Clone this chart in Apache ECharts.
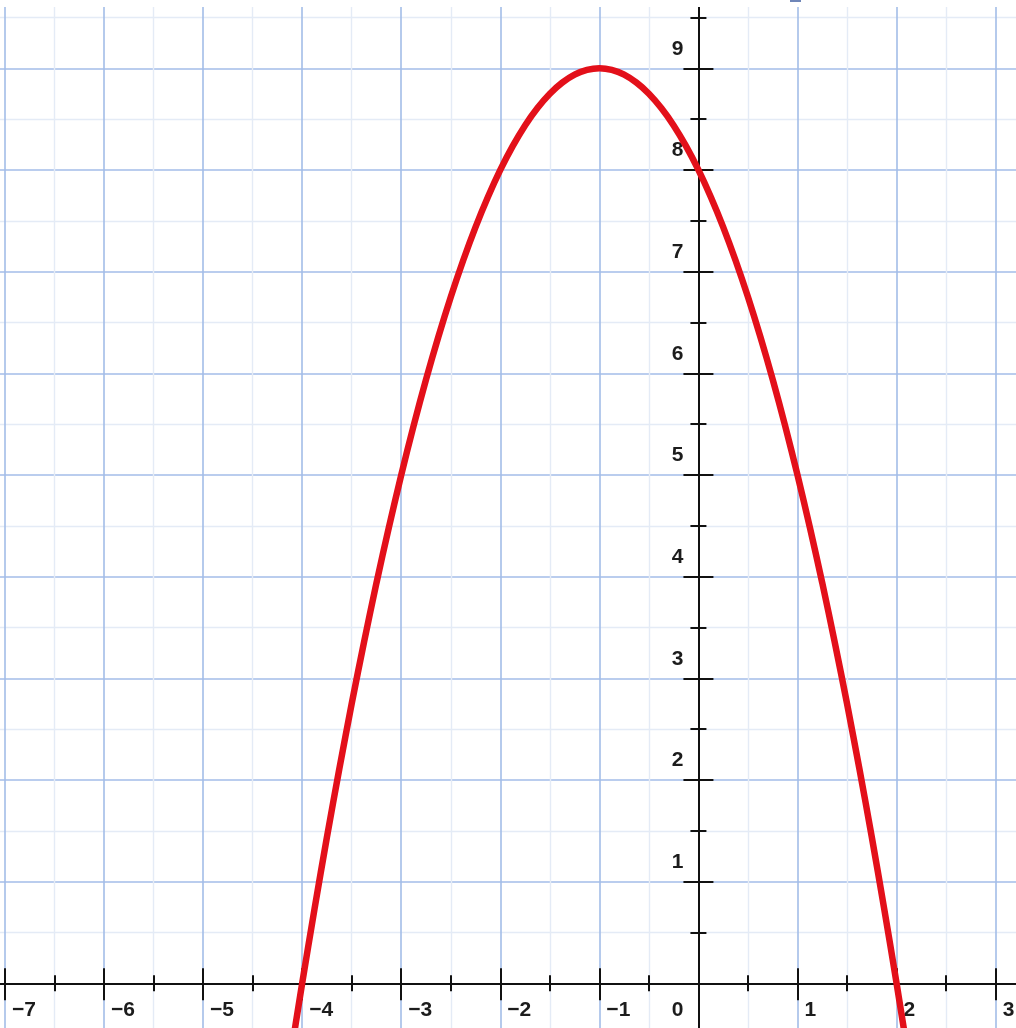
<!DOCTYPE html>
<html>
<head>
<meta charset="utf-8">
<title>Parabola</title>
<script src="https://cdn.jsdelivr.net/npm/echarts@6/dist/echarts.min.js"></script>
<style>
  html, body { margin: 0; padding: 0; background: #fff; }
  #chart { width: 1016px; height: 1028px; }
</style>
</head>
<body>
<div id="chart"></div>
<script>
// axis ranges (the visible window is a crop of a larger grid)
const xMin = -8, xMax = 4
const yMin = -1, yMax = 10

// tick labels shown on the axes
const xTickLabels = [-7, -6, -5, -4, -3, -2, -1, 1, 2, 3]
const yTickLabels = [1, 2, 3, 4, 5, 6, 7, 8, 9]

// points of the red curve
const curveX = [-4.5, -4.375, -4.25, -4.125, -4, -3.875, -3.75, -3.625, -3.5, -3.375, -3.25, -3.125,
  -3, -2.875, -2.75, -2.625, -2.5, -2.375, -2.25, -2.125, -2, -1.875, -1.75, -1.625, -1.5, -1.375,
  -1.25, -1.125, -1, -0.875, -0.75, -0.625, -0.5, -0.375, -0.25, -0.125, 0, 0.125, 0.25, 0.375,
  0.5, 0.625, 0.75, 0.875, 1, 1.125, 1.25, 1.375, 1.5, 1.625, 1.75, 1.875, 2, 2.125, 2.25, 2.375, 2.5]
const curveY = [-3.25, -2.391, -1.563, -0.766, 0, 0.734, 1.438, 2.109, 2.75, 3.359, 3.938, 4.484,
  5, 5.484, 5.938, 6.359, 6.75, 7.109, 7.438, 7.734, 8, 8.234, 8.438, 8.609, 8.75, 8.859,
  8.938, 8.984, 9, 8.984, 8.938, 8.859, 8.75, 8.609, 8.438, 8.234, 8, 7.734, 7.438, 7.109,
  6.75, 6.359, 5.938, 5.484, 5, 4.484, 3.938, 3.359, 2.75, 2.109, 1.438, 0.734, 0, -0.766, -1.563, -2.391, -3.25]

const font = 'Liberation Sans, Arial, sans-serif'
const labelColor = '#1c1c1c'
const labelSize = 21
const majorGrid = '#a3bde8'
const minorGrid = '#e4ebf6'

// grid box in pixels; it is bigger than the page so only part of it shows
const gridLeft = -94.1, gridTop = -33.4, gridW = 1188.8, gridH = 1118.4

// move the axes from the grid edges to the zero lines
const xAxisOffset = -(0 - yMin) * gridH / (yMax - yMin)
const yAxisOffset = -(0 - xMin) * gridW / (xMax - xMin)

const fmtNum = (v) => (v < 0 ? '\u2212' + (-v) : String(v))

const chart = echarts.init(document.getElementById('chart'))

const baseAxis = {
  type: 'value',
  interval: 1,
  axisLine: { onZero: false, lineStyle: { color: '#111', width: 2 } },
  axisTick: { show: true, length: 15, lineStyle: { color: '#111', width: 2 } },
  minorTick: { show: true, splitNumber: 2, length: 8, lineStyle: { color: '#111', width: 2 } }
}

const labelText = { fontFamily: font, fontSize: labelSize, fontWeight: 'bold', color: labelColor }

const option = {
  animation: false,
  backgroundColor: '#fff',
  grid: {
    left: gridLeft, top: gridTop, width: gridW, height: gridH,
    containLabel: false, outerBoundsMode: 'none'
  },
  xAxis: [
    {
      ...baseAxis, min: xMin, max: xMax, position: 'bottom', offset: xAxisOffset,
      axisTick: { ...baseAxis.axisTick, inside: false, length: 17 },
      axisLabel: {
        show: true, margin: 16, align: 'left', padding: [0, 0, 0, 7], ...labelText,
        formatter: (v) => (xTickLabels.includes(v) ? fmtNum(v) : '')
      },
      splitLine: { show: true, lineStyle: { color: majorGrid, width: 1.6 } },
      minorSplitLine: { show: true, lineStyle: { color: minorGrid, width: 1.4 } }
    },
    {
      ...baseAxis, min: xMin, max: xMax, position: 'bottom', offset: xAxisOffset,
      axisTick: { ...baseAxis.axisTick, inside: true },
      axisLabel: {
        show: true, margin: 16, align: 'right', ...labelText,
        formatter: (v) => (v === 0 ? '{z|0}' : ''),
        rich: { z: { padding: [0, 15, 0, 0], ...labelText } }
      },
      splitLine: { show: false }
    }
  ],
  yAxis: [
    {
      ...baseAxis, min: yMin, max: yMax, position: 'left', offset: yAxisOffset,
      axisTick: { ...baseAxis.axisTick, inside: false },
      axisLabel: {
        show: true, margin: 15, align: 'right', verticalAlign: 'bottom', padding: [0, 0, 9, 0], ...labelText,
        formatter: (v) => (yTickLabels.includes(v) ? fmtNum(v) : '')
      },
      splitLine: { show: true, lineStyle: { color: majorGrid, width: 1.6 } },
      minorSplitLine: { show: true, lineStyle: { color: minorGrid, width: 1.4 } }
    },
    {
      ...baseAxis, min: yMin, max: yMax, position: 'left', offset: yAxisOffset,
      axisTick: { ...baseAxis.axisTick, inside: true },
      axisLabel: { show: false },
      splitLine: { show: false }
    }
  ],
  series: [
    {
      type: 'line',
      xAxisIndex: 0,
      yAxisIndex: 0,
      data: curveX.map((x, i) => [x, curveY[i]]),
      smooth: 0.3,
      showSymbol: false,
      lineStyle: { color: '#e3101a', width: 6.5 },
      z: 5
    }
  ],
  graphic: [
    // blank strip along the top edge
    { type: 'rect', left: 0, top: 0, shape: { width: 1016, height: 7 }, style: { fill: '#fff' }, z: 100 },
    { type: 'rect', left: 790, top: 0, shape: { width: 11, height: 2 }, style: { fill: '#6f86b8' }, z: 101 }
  ]
}

chart.setOption(option)
</script>
</body>
</html>
